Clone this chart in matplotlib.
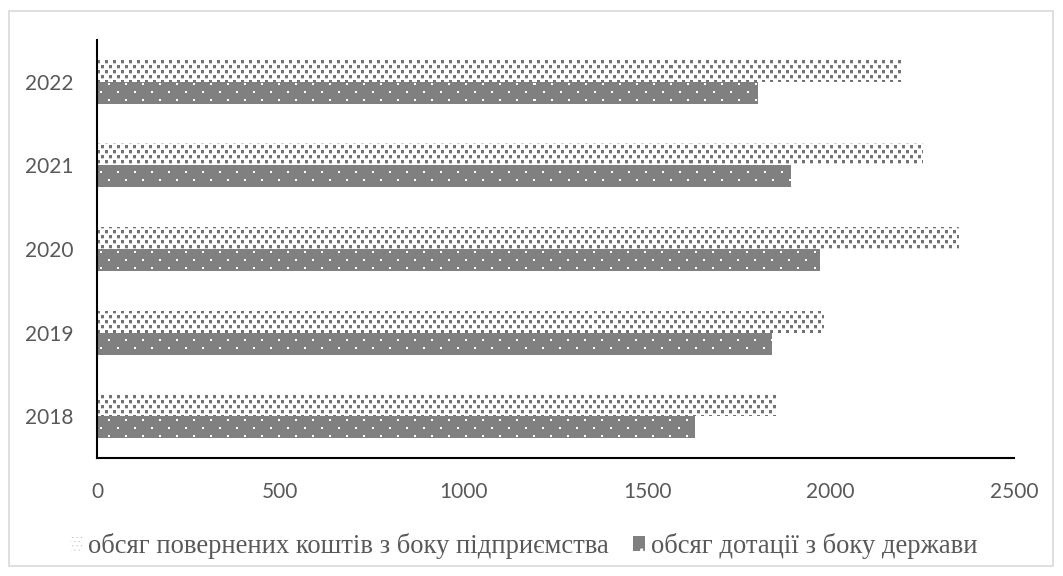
import numpy as np
import matplotlib
matplotlib.use("Agg")
import matplotlib.pyplot as plt
from matplotlib.patches import Patch, Rectangle

# ---- data -------------------------------------------------------------
years = ["2018", "2019", "2020", "2021", "2022"]
returned_funds = [1850, 1980, 2350, 2250, 2190]   # обсяг повернених коштів
state_subsidy = [1630, 1840, 1970, 1890, 1800]    # обсяг дотації
series_labels = ["обсяг повернених коштів з боку підприємства",
                 "обсяг дотації з боку держави"]
x_ticks = [0, 500, 1000, 1500, 2000, 2500]

W, H = 1063, 576
DPI = 100
fig = plt.figure(figsize=(W / DPI, H / DPI), dpi=DPI)
fig.patch.set_facecolor("white")

# light frame around the chart area
fig.add_artist(Rectangle((9 / W, 10 / H), (W - 19) / W, (H - 21) / H,
                         transform=fig.transFigure, fill=False,
                         edgecolor="#d9d9d9", linewidth=1.2))

ax_l, ax_r, ax_t, ax_b = 97, 1014, 40, 458
ax = fig.add_axes([ax_l / W, 1 - ax_b / H, (ax_r - ax_l) / W, (ax_b - ax_t) / H])

TEXT = "#595959"
GRAY = "#808080"
bar_h = 0.263
pos = np.arange(len(years))
XMAX = 2500
YLIM = (-0.5, len(years) - 0.5)

solid = ax.barh(pos - bar_h / 2, state_subsidy, height=bar_h,
                color=GRAY, linewidth=0)
patt = ax.barh(pos + bar_h / 2, returned_funds, height=bar_h,
               color="white", linewidth=0)

# fill textures, one texel per output pixel of the axes
pw, ph = ax_r - ax_l, ax_b - ax_t

# staggered gray squares on white
t1 = np.ones((10, 8))
t1[0:3, 0:3] = 0.45
t1[5:8, 4:7] = 0.45
t1[3, 0:3] = 0.82
t1[8, 4:7] = 0.82
# gray with sparse white dots
t2 = np.full((16, 17), 0.5)
t2[3:5, 3:5] = 1.0
t2[11:13, 11:13] = 1.0


def textured(rects, tile):
    tex = np.tile(tile, (ph // tile.shape[0] + 1, pw // tile.shape[1] + 1))[:ph, :pw]
    for rect in rects:
        im = ax.imshow(tex, cmap="gray", vmin=0, vmax=1, interpolation="nearest",
                       extent=(0, XMAX, YLIM[0], YLIM[1]), aspect="auto",
                       zorder=rect.get_zorder() + 0.1)
        im.set_clip_path(rect)


textured(patt, t1)
textured(solid, t2)
ax.set_xlim(0, XMAX)
ax.set_ylim(*YLIM)

for s in ["top", "right"]:
    ax.spines[s].set_visible(False)
for s in ["left", "bottom"]:
    ax.spines[s].set_color("black")
    ax.spines[s].set_linewidth(1.5)

ax.set_yticks(pos)
ax.set_yticklabels(years)
ax.set_xticks(x_ticks)
ax.set_xticklabels([str(v) for v in x_ticks])
ax.tick_params(axis="both", length=0, colors=TEXT, labelsize=15)
ax.tick_params(axis="x", pad=17)
ax.tick_params(axis="y", pad=17)
for lab in ax.get_xticklabels() + ax.get_yticklabels():
    lab.set_fontfamily("Lato")

plt.rcParams["hatch.linewidth"] = 0.0
handles = [
    Patch(facecolor="white", edgecolor="#606060", hatch="....", linewidth=0),
    Patch(facecolor=GRAY, edgecolor="white", hatch=".", linewidth=0),
]
fig.legend(handles, series_labels, loc="center", bbox_to_anchor=(0.493, 1 - 546 / H),
           ncol=2, frameon=False,
           prop={"family": "Liberation Serif", "size": 19.2},
           labelcolor=TEXT, handlelength=0.45, handleheight=0.45,
           handletextpad=0.2, columnspacing=0.9)

fig.savefig("out.png", dpi=DPI, facecolor="white")
